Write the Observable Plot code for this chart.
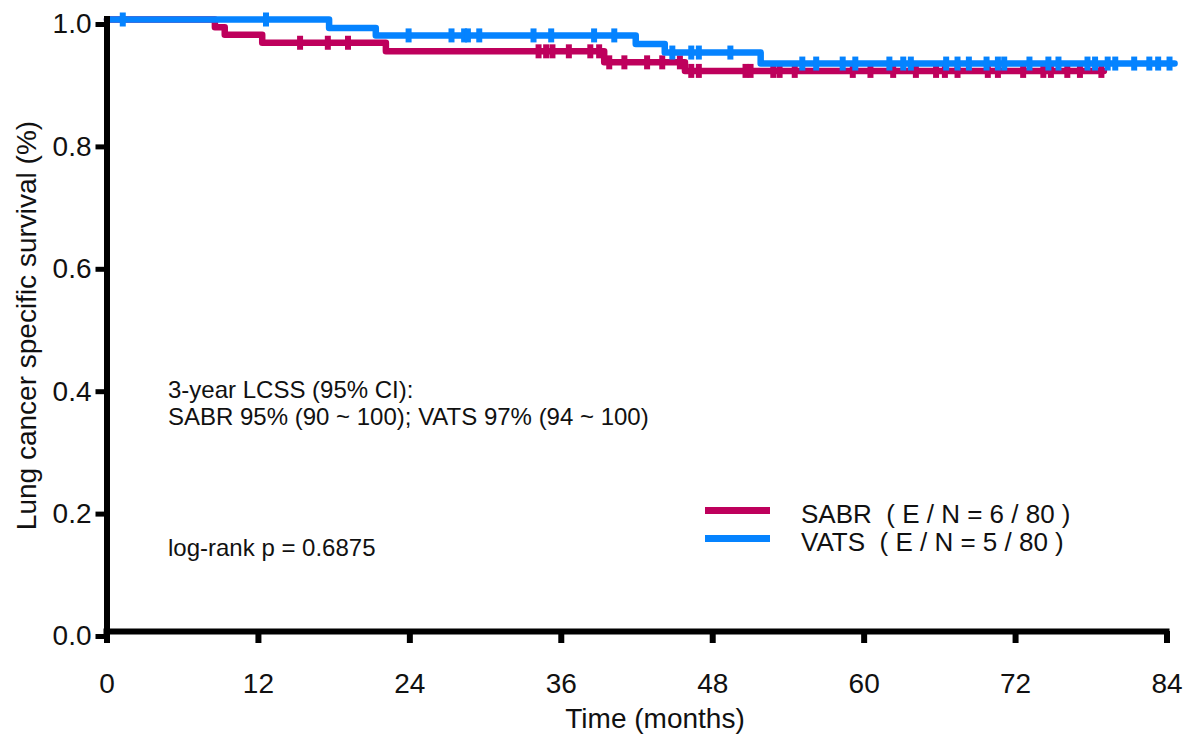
<!DOCTYPE html>
<html><head><meta charset="utf-8">
<script src="https://cdn.jsdelivr.net/npm/d3@7"></script>
<script src="https://cdn.jsdelivr.net/npm/@observablehq/plot@0.6"></script>
<style>
body{margin:0;background:#fff;font-family:"Liberation Sans",Arial,sans-serif;}
#wrap{position:relative;width:1199px;height:742px;overflow:hidden;}
.ann{position:absolute;font-size:24px;line-height:27px;color:#111;white-space:pre;}
.leg{position:absolute;font-size:26px;line-height:28px;color:#111;white-space:pre;}
.sw{position:absolute;width:65px;height:6.5px;}
</style></head><body><div id="wrap"></div>
<script>
// ---- data ----
const xTicks = [0, 12, 24, 36, 48, 60, 72, 84];
const yTicks = [0, 0.2, 0.4, 0.6, 0.8, 1.0];
const seriesNames = ["SABR", "VATS"];
const seriesColors = ["#be005c", "#0583ff"];
const legendLabels = ["SABR  ( E / N = 6 / 80 )", "VATS  ( E / N = 5 / 80 )"];

// step curve: time of each step and survival after it (last point = end of follow-up)
const sabrTimes = [0, 8.55, 9.33, 12.3, 22.1, 39.4, 45.8, 79.0];
const sabrSurv  = [1, 0.9875, 0.975, 0.962, 0.948, 0.930, 0.916, 0.916];
const sabrCensor = [15.3, 17.5, 19.1, 34.2, 34.8, 35.3, 36.6, 38.3, 39.0, 39.8, 41.0, 42.8, 44.0, 45.4,
  46.3, 46.9, 50.6, 51.0, 52.8, 53.3, 54.5, 59.1, 60.5, 62.3, 64.1, 65.7, 66.4, 67.4, 69.8, 70.6,
  72.6, 74.2, 74.8, 76.1, 77.1, 78.8];

const vatsTimes = [0, 17.6, 21.3, 41.9, 44.2, 51.8, 84.6];
const vatsSurv  = [1, 0.986, 0.974, 0.960, 0.946, 0.928, 0.928];
const vatsCensor = [1.25, 12.6, 23.9, 27.3, 28.3, 28.6, 29.5, 33.8, 35.2, 38.6, 40.2, 44.8, 46.3, 46.9,
  49.4, 55.1, 56.2, 58.3, 59.3, 62.0, 63.1, 63.7, 66.5, 67.4, 68.3, 69.7, 70.6, 71.1, 73.1, 74.6,
  75.4, 77.7, 78.3, 79.3, 79.9, 81.4, 82.6, 83.3, 84.2];

const xTitle = "Time (months)";
const yTitle = "Lung cancer specific survival (%)";
const annLines = ["3-year LCSS (95% CI):", "SABR 95% (90 ~ 100); VATS 97% (94 ~ 100)"];
const pText = "log-rank p = 0.6875";

// ---- build tables ----
function levelAt(times, surv, t) {
  let s = surv[0];
  for (let i = 0; i < times.length; i++) if (times[i] <= t) s = surv[i];
  return s;
}
const steps = (times, surv) => times.map((t, i) => ({t, s: surv[i]}));
const cens = (c, times, surv) => c.map(t => ({t, s: levelAt(times, surv, t)}));

const sabrSteps = steps(sabrTimes, sabrSurv);
const vatsSteps = steps(vatsTimes, vatsSurv);
const sabrCens = cens(sabrCensor, sabrTimes, sabrSurv);
const vatsCens = cens(vatsCensor, vatsTimes, vatsSurv);

const censorMark = {draw(ctx) {
  ctx.moveTo(-3, -7); ctx.lineTo(3, -7); ctx.lineTo(3, 7); ctx.lineTo(-3, 7); ctx.closePath();
}};

const chart = Plot.plot({
  width: 1199, height: 742,
  marginLeft: 106.5, marginRight: 32.5, marginTop: 19, marginBottom: 111,
  style: {fontFamily: '"Liberation Sans", Arial, sans-serif', color: "#111", background: "white", overflow: "visible"},
  x: {domain: [0, 84]},
  y: {domain: [0, 1]},
  marks: [
    Plot.line(sabrSteps, {x: "t", y: "s", curve: "step-after", stroke: seriesColors[0], strokeWidth: 6.5}),
    Plot.dot(sabrCens, {x: "t", y: "s", symbol: censorMark, fill: seriesColors[0], stroke: "none"}),
    Plot.line(vatsSteps, {x: "t", y: "s", curve: "step-after", stroke: seriesColors[1], strokeWidth: 6.5}),
    Plot.dot(vatsCens, {x: "t", y: "s", symbol: censorMark, fill: seriesColors[1], stroke: "none"}),
    Plot.ruleX([0], {stroke: "black", strokeWidth: 6, strokeLinecap: "square"}),
    Plot.ruleY([0], {stroke: "black", strokeWidth: 6, strokeLinecap: "square"}),
    Plot.axisX({ticks: xTicks, tickFormat: d => String(d), tickSize: 12, tickPadding: 30, strokeWidth: 6,
      stroke: "black", fontSize: 28, label: null}),
    Plot.axisY({ticks: yTicks, tickFormat: d3.format(".1f"), tickSize: 11, tickPadding: 4.5, strokeWidth: 5,
      stroke: "black", fontSize: 28, label: null, dy: 5}),
    Plot.text([xTitle], {text: d => d, frameAnchor: "bottom", textAnchor: "middle", lineAnchor: "middle",
      dx: 18, dy: 88, fontSize: 28, fill: "#111"}),
    Plot.text([yTitle], {text: d => d, frameAnchor: "left", textAnchor: "middle", lineAnchor: "middle",
      rotate: -90, dx: -80, fontSize: 28, fill: "#111"})
  ]
});
const wrap = document.getElementById("wrap");
wrap.appendChild(chart);

function addDiv(cls, text, left, top, extra) {
  const d = document.createElement("div");
  d.className = cls;
  d.textContent = text;
  d.style.left = left + "px";
  d.style.top = top + "px";
  if (extra) Object.assign(d.style, extra);
  wrap.appendChild(d);
  return d;
}
addDiv("ann", annLines.join("\n"), 168, 376);
addDiv("ann", pText, 168, 534);
seriesNames.forEach((n, i) => {
  addDiv("sw", "", 705, 507 + i * 28, {background: seriesColors[i]});
  addDiv("leg", legendLabels[i], 801, 500 + i * 28);
});
</script></body></html>
